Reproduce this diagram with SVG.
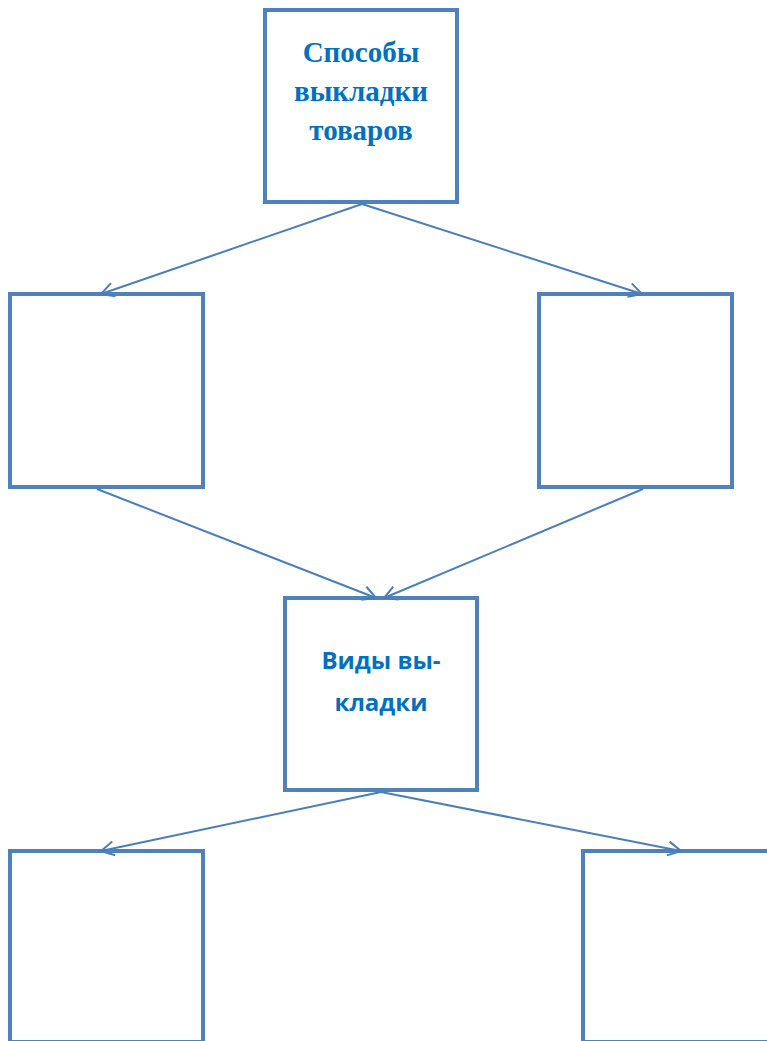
<svg xmlns="http://www.w3.org/2000/svg" width="767" height="1041" viewBox="0 0 767 1041">
<defs>
<marker id="ah" viewBox="0 0 16 16" refX="15" refY="8" markerWidth="16" markerHeight="16" markerUnits="userSpaceOnUse" orient="auto">
<path d="M2,1 L15,8 L2,15" fill="none" stroke="#4a7ebb" stroke-width="2"/>
</marker>
<style>
.box{fill:#fff;stroke:#4f81bd;stroke-width:4}
.ln{fill:none;stroke:#4a7ebb;stroke-width:2;marker-end:url(#ah)}
.t1{font-family:"Liberation Serif",serif;font-weight:bold;font-size:29px;fill:#0070c0;text-anchor:middle}
.t2{font-family:"Open Sans","Liberation Sans",sans-serif;font-weight:bold;font-size:24px;fill:#0070c0;text-anchor:middle}
</style>
</defs>
<rect width="767" height="1041" fill="#fff"/>
<g id="n-top">
<rect class="box" x="265" y="10" width="192" height="192"/>
<text class="t1" x="361" y="62">Способы</text>
<text class="t1" x="361" y="101">выкладки</text>
<text class="t1" x="361" y="140">товаров</text>
</g>
<g id="n-left">
<rect class="box" x="10" y="294" width="193" height="193"/>
</g>
<g id="n-right">
<rect class="box" x="539" y="294" width="193" height="193"/>
</g>
<g id="n-center">
<rect class="box" x="285" y="598" width="192" height="192"/>
<text class="t2" x="381" y="669">Виды вы-</text>
<text class="t2" x="381" y="711">кладки</text>
</g>
<g id="n-bl">
<rect class="box" x="10" y="851" width="193" height="191"/>
</g>
<g id="n-br">
<rect class="box" x="583" y="851" width="200" height="191"/>
</g>
<g id="connectors">
<line class="ln" x1="362" y1="204" x2="101" y2="294"/>
<line class="ln" x1="362" y1="204" x2="642" y2="294"/>
<line class="ln" x1="97" y1="489" x2="376" y2="598"/>
<line class="ln" x1="643" y1="489" x2="384" y2="598"/>
<line class="ln" x1="381" y1="792" x2="101" y2="851"/>
<line class="ln" x1="381" y1="792" x2="681" y2="851"/>
</g>
</svg>
